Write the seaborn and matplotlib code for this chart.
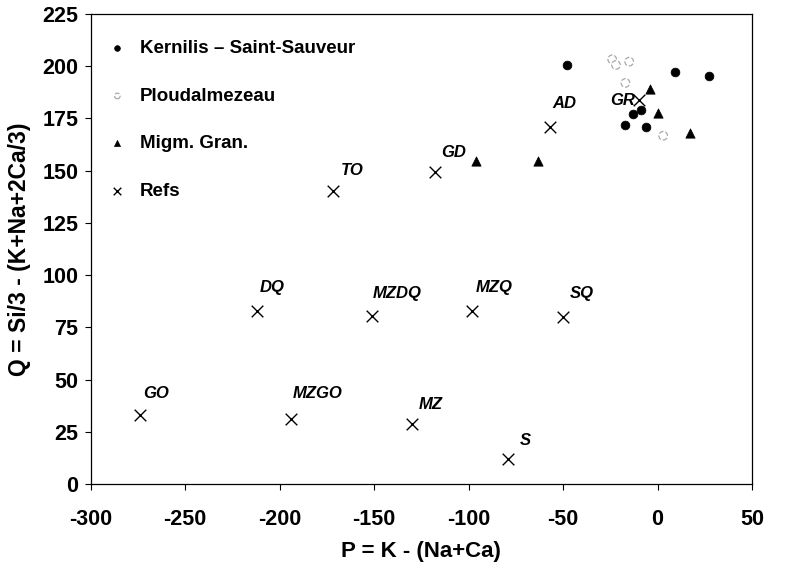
import matplotlib
matplotlib.use("Agg")
import matplotlib.pyplot as plt
import seaborn as sns
import pandas as pd

# ---- data ----
kern_p = [-48, 9, 27, -13, -17, -6, -9]
kern_q = [200.6, 197, 195.3, 177, 171.7, 171, 179]

ploud_p = [-24, -22, -15, -17, 3]
ploud_q = [203.3, 200.6, 202.2, 192, 166.7]

migm_p = [-96, -63, -4, 0, 17]
migm_q = [154.6, 154.6, 189, 177.5, 168.2]

ref_names = ["GO", "MZGO", "MZ", "S", "DQ", "MZDQ", "MZQ", "SQ", "TO", "GD", "AD", "GR"]
ref_p = [-274, -194, -130, -79, -212, -151, -98, -50, -172, -118, -57, -10]
ref_q = [33, 31, 28.6, 12, 83, 80.4, 83, 80, 140.3, 149.2, 171, 183.8]

x_ticks = [-300, -250, -200, -150, -100, -50, 0, 50]
y_ticks = [0, 25, 50, 75, 100, 125, 150, 175, 200, 225]

# ---- style ----
sns.set_style("ticks")
plt.rcParams["font.family"] = ["Liberation Sans", "DejaVu Sans"]
plt.rcParams["font.weight"] = "bold"
plt.rcParams["axes.unicode_minus"] = False
for k in ["text.color", "axes.labelcolor", "xtick.color", "ytick.color", "axes.edgecolor"]:
    plt.rcParams[k] = "black"

fig = plt.figure(figsize=(7.85, 5.77), dpi=100)
ax = fig.add_axes([90.7 / 785, 93 / 577, (752 - 90.7) / 785, (484 - 14) / 577])

kern = pd.DataFrame({"P": kern_p, "Q": kern_q})
ploud = pd.DataFrame({"P": ploud_p, "Q": ploud_q})
migm = pd.DataFrame({"P": migm_p, "Q": migm_q})
refs = pd.DataFrame({"P": ref_p, "Q": ref_q, "name": ref_names})

sns.scatterplot(data=kern, x="P", y="Q", ax=ax, marker="o", s=40, color="black",
                edgecolor="black", linewidth=0.5, label="Kernilis \u2013 Saint-Sauveur", zorder=3)
sns.scatterplot(data=ploud, x="P", y="Q", ax=ax, marker="o", s=38, facecolor="white",
                edgecolor="#a8a8a8", linewidth=0.9, linestyle="--", label="Ploudalmezeau", zorder=3)
sns.scatterplot(data=migm, x="P", y="Q", ax=ax, marker="^", s=45, color="black",
                edgecolor="black", linewidth=0.5, label="Migm. Gran.", zorder=3)
sns.scatterplot(data=refs, x="P", y="Q", ax=ax, marker="x", s=70, color="black",
                linewidth=1.0, label="Refs", zorder=3)

# point labels (offsets in pixels)
offsets = {
    "GO": (3, 22, "left"), "MZGO": (2, 26, "left"), "MZ": (7, 20, "left"),
    "S": (12, 18, "left"), "DQ": (3, 23, "left"), "MZDQ": (0, 23, "left"),
    "MZQ": (3, 23, "left"), "SQ": (7, 23, "left"), "TO": (8, 20, "left"),
    "GD": (7, 20, "left"), "AD": (3, 23, "left"), "GR": (-4, 0, "right"),
}
for n, p, q in zip(ref_names, ref_p, ref_q):
    dx, dy, ha = offsets[n]
    ax.annotate(n, (p, q), xytext=(dx, dy), textcoords="offset pixels",
                ha=ha, va="center", fontsize=12, fontweight="bold",
                fontstyle="italic", color="black", zorder=4)

ax.set_xlim(-300, 50)
ax.set_ylim(0, 225)
ax.set_xticks(x_ticks)
ax.set_yticks(y_ticks)
ax.tick_params(axis="both", direction="out", length=4, width=0.8, colors="black",
               labelsize=15.5, pad=5)
for lab in ax.get_xticklabels() + ax.get_yticklabels():
    lab.set_fontweight("bold")
ax.tick_params(axis="x", pad=14)

ax.set_xlabel("P = K - (Na+Ca)", fontsize=16, fontweight="bold", labelpad=8)
ax.set_ylabel("Q = Si/3 - (K+Na+2Ca/3)", fontsize=16.5, fontweight="bold", labelpad=8)

for sp in ax.spines.values():
    sp.set_color("black")
    sp.set_linewidth(0.9)

leg = ax.legend(loc="upper left", bbox_to_anchor=(-9 / 661, 1.0), frameon=False,
                markerscale=0.65, labelspacing=1.62,
                handlelength=1.0, handletextpad=0.7, borderpad=0.9,
                prop={"weight": "bold", "size": 13.5})
for t in leg.get_texts():
    t.set_color("black")

fig.savefig("out.png", dpi=100)
